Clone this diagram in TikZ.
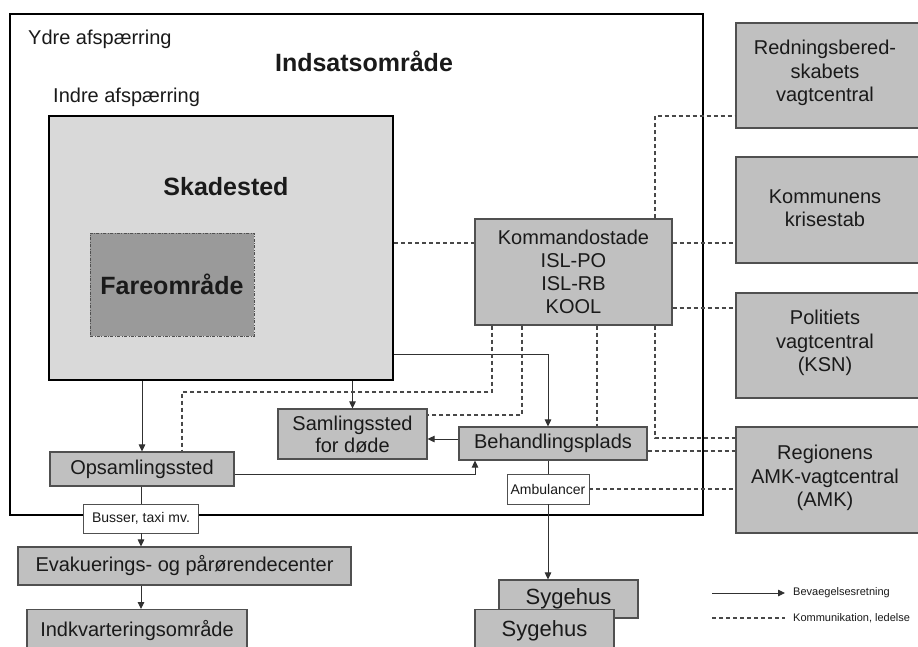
\documentclass[tikz,border=0pt]{standalone}
\usepackage{fontspec}
\setmainfont{Liberation Sans}
\usetikzlibrary{arrows.meta}
\definecolor{boxgray}{HTML}{C0C0C0}
\definecolor{lightzone}{HTML}{D9D9D9}
\definecolor{darkzone}{HTML}{9A9A9A}
\definecolor{edge}{HTML}{505050}
\definecolor{ink}{HTML}{1A1A1A}

\begin{document}
\begin{tikzpicture}[x=1pt,y=-1pt,
  box/.style={draw=edge, line width=1.1pt, fill=boxgray, inner sep=0pt, text=ink,
    font=\fontsize{20}{23.5}\selectfont, align=center},
  tagbox/.style={draw=edge, line width=0.9pt, fill=white, inner sep=0pt, text=ink,
    font=\fontsize{14}{16}\selectfont},
  zone/.style={draw=black, line width=2.6pt, inner sep=0pt},
  title/.style={text=ink, inner sep=0pt},
  bigbold/.style={font=\bfseries\fontsize{25}{30}\selectfont},
  flow/.style={draw=ink!90, line width=0.9pt},
  flowarr/.style={flow, -{Triangle[length=7pt,width=6.5pt]}},
  comm/.style={draw=ink!80, line width=1.1pt, dash pattern=on 4pt off 3pt},
  % boxes running off the lower edge: taller box, text kept high
  lowbox/.style={box, anchor=north, minimum height=50, text height=15pt, text depth=12pt}
]
\useasboundingbox (0,0) rectangle (918,646);
\fill[white] (0,0) rectangle (918,646);
\clip (0,0) rectangle (918,646);

% outer cordon
\node[zone, minimum width=693, minimum height=501] (ydre) at (356.5,264.5) {};
\node[title, anchor=base west, font=\fontsize{20}{24}\selectfont] (ydrelbl) at (28,44) {Ydre afspærring};
\node[title, anchor=base, bigbold] (indsats) at (364,71) {Indsatsområde};
\node[title, anchor=base west, font=\fontsize{20}{24}\selectfont] (indrelbl) at (53,102) {Indre afspærring};

% inner cordon: scene and danger zone
\node[zone, fill=lightzone, minimum width=344, minimum height=264] (skadested) at (221,248) {};
\node[title, bigbold] (skadestedlbl) at (226,187) {Skadested};
\node[draw=edge, line width=0.9pt, dash pattern=on 3pt off 1.5pt on 0.8pt off 1.5pt,
  fill=darkzone, minimum width=164, minimum height=103, inner sep=0pt, text=ink, bigbold]
  (fare) at (172,284.5) {Fareområde};

% boxes inside the area
\node[box, minimum width=197, minimum height=106, font=\fontsize{20}{23}\selectfont]
  (kommando) at (573.5,272) {Kommandostade\\ISL-PO\\ISL-RB\\KOOL};
\node[box, minimum width=184, minimum height=34] (opsam) at (142,469) {Opsamlingssted};
\node[box, minimum width=149, minimum height=50, font=\fontsize{20}{22}\selectfont]
  (saml) at (352.5,434) {Samlingssted\\for døde};
\node[box, minimum width=188, minimum height=33] (behand) at (553,443.5) {Behandlingsplads};
\node[tagbox, minimum width=115, minimum height=29] (busser) at (141,518.5) {Busser, taxi mv.};
\node[tagbox, minimum width=82, minimum height=30] (amb) at (548,489) {Ambulancer};

% boxes outside the area
\node[box, minimum width=333, minimum height=38] (evak) at (184.5,566) {Evakuerings- og pårørendecenter};
\node[lowbox, minimum width=220] (indk) at (137,609) {Indkvarteringsområde};
\node[box, minimum width=139, minimum height=38, font=\fontsize{22}{26}\selectfont] (syg1) at (568.5,599) {Sygehus};
\node[lowbox, minimum width=139, font=\fontsize{22}{26}\selectfont] (syg2) at (544.5,609) {Sygehus};

% external centrals
\node[box, minimum width=194, minimum height=105] (redn) at (833,75.5) {};
\node[title, align=center, font=\fontsize{20}{23.5}\selectfont] (rednlbl) at (825,73) {Redningsbered-\\skabets\\vagtcentral};
\node[box, minimum width=194, minimum height=106] (kommune) at (833,210) {};
\node[title, align=center, font=\fontsize{20}{23.5}\selectfont] (kommunelbl) at (825,208) {Kommunens\\krisestab};
\node[box, minimum width=194, minimum height=105] (politi) at (833,345.5) {};
\node[title, align=center, font=\fontsize{20}{23.5}\selectfont] (politilbl) at (825,343) {Politiets\\vagtcentral\\(KSN)};
\node[box, minimum width=194, minimum height=106] (region) at (833,480) {};
\node[title, align=center, font=\fontsize{20}{23.5}\selectfont] (regionlbl) at (825,478) {Regionens\\AMK-vagtcentral\\(AMK)};

% movement
\draw[flowarr] (skadested.south -| opsam.north) -- (opsam.north);
\draw[flowarr] (skadested.south -| saml.north) -- (saml.north);
\coordinate (toBeh) at (548,354);
\draw[flowarr] (skadested.east |- toBeh) -- (toBeh) -- (toBeh |- behand.north);
\coordinate (dodeY) at (0,439);
\draw[flowarr] (behand.west |- dodeY) -- (saml.east |- dodeY);
\coordinate (opsTurn) at (475,474);
\draw[flowarr] (opsam.east |- opsTurn) -- (opsTurn) -- (opsTurn |- behand.south);
\draw[flow] (opsam.south -| busser.north) -- (busser.north);
\draw[flowarr] (busser.south) -- (evak.north -| busser.south);
\draw[flowarr] (evak.south -| busser.south) -- (indk.north -| busser.south);
\draw[flow] (behand.south -| amb.north) -- (amb.north);
\draw[flowarr] (amb.south) -- (syg1.north -| amb.south);

% communication and command
\coordinate (kTop) at (655,116);
\draw[comm] (kommando.north -| kTop) -- (kTop) -- (redn.west |- kTop);
\coordinate (kY1) at (0,243);
\draw[comm] (skadested.east |- kY1) -- (kommando.west |- kY1);
\draw[comm] (kommando.east |- kY1) -- (kommune.west |- kY1);
\coordinate (kY2) at (0,308);
\draw[comm] (kommando.east |- kY2) -- (politi.west |- kY2);
\coordinate (dA) at (492,392);
\coordinate (dB) at (182,392);
\draw[comm] (kommando.south -| dA) -- (dA) -- (dB) -- (opsam.north -| dB);
\coordinate (dC) at (522,415);
\draw[comm] (kommando.south -| dC) -- (dC) -- (saml.east |- dC);
\coordinate (dD) at (597,0);
\draw[comm] (kommando.south -| dD) -- (behand.north -| dD);
\coordinate (dE) at (655,438);
\draw[comm] (kommando.south -| dE) -- (dE) -- (region.west |- dE);
\coordinate (dF) at (0,451);
\draw[comm] (behand.east |- dF) -- (region.west |- dF);
\draw[comm] (amb.east) -- (region.west |- amb.east);

% legend
\coordinate (legA0) at (712,593);
\coordinate (legA1) at (785,593);
\draw[flowarr] (legA0) -- (legA1);
\node[title, anchor=west, font=\fontsize{11}{13}\selectfont] (legAtxt) at (793,593) {Bevaegelsesretning};
\coordinate (legB0) at (712,618);
\coordinate (legB1) at (785,618);
\draw[comm] (legB0) -- (legB1);
\node[title, anchor=west, font=\fontsize{11}{13}\selectfont] (legBtxt) at (793,618) {Kommunikation, ledelse};
\end{tikzpicture}
\end{document}
